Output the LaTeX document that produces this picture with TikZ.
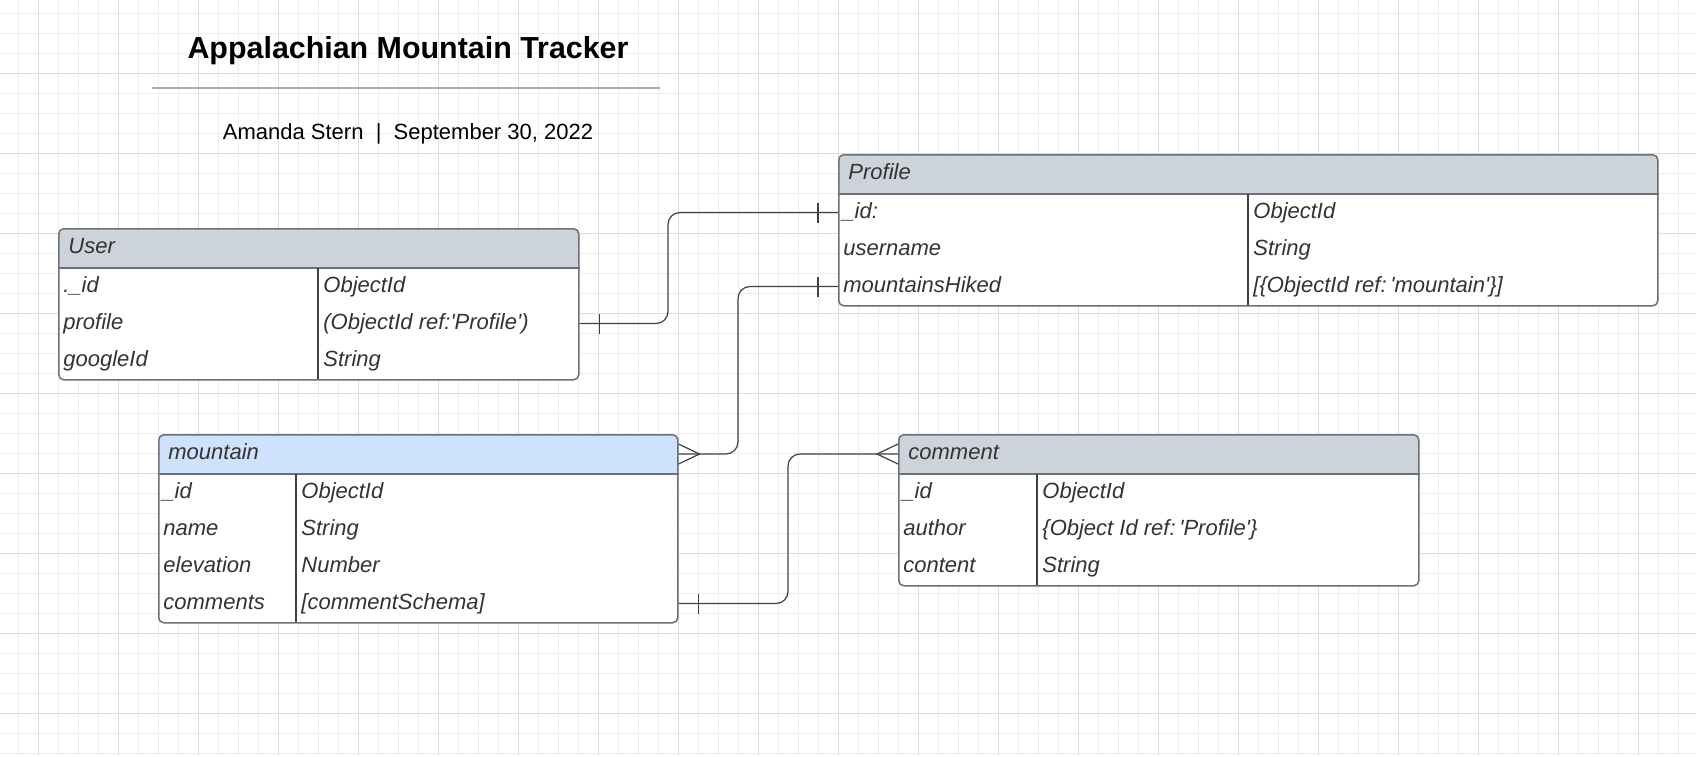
\documentclass[tikz,border=0pt]{standalone}
\usepackage{fontspec}
\setmainfont{Liberation Sans}
\definecolor{gminor}{HTML}{EDEDED}
\definecolor{gmajor}{HTML}{DCDCDC}
\definecolor{headgray}{HTML}{CDD3DB}
\definecolor{headblue}{HTML}{CFE2FB}
\definecolor{edge}{HTML}{6B7079}
\definecolor{wire}{HTML}{3C424A}
\definecolor{ink}{HTML}{333333}
\definecolor{rulecol}{HTML}{A8ADB8}
\newcommand{\squote}{\textquotesingle}

\begin{document}
\begin{tikzpicture}[x=0.5pt, y=-0.5pt, font=\fontsize{11}{13}\selectfont]
    \tikzset{
      tbl/.style={draw=edge, line width=0.75pt, fill=white, rounded corners=2.5pt,
        anchor=north west, inner sep=0pt, minimum height=75.5pt,
        path picture={\fill[#1] (path picture bounding box.north west)
          rectangle ([yshift=-20pt]path picture bounding box.north east);}},
      fld/.style={anchor=west, inner sep=0pt, text height=8pt, text depth=2.5pt,
        font=\fontsize{11}{13}\selectfont\itshape, text=ink},
      sep/.style={draw=edge, line width=0.75pt},
      div/.style={draw=wire, line width=0.6pt},
      conn/.style={draw=wire, line width=0.6pt},
    }
    \useasboundingbox (0,0) rectangle (1696,756);
    \fill[white] (0,0) rectangle (1696,756);

    % background grid
    \foreach \i in {0,...,83} \draw[gminor, line width=0.5pt] ({18.33+20*\i},0) -- ++(0,756);
    \foreach \i in {0,...,37} \draw[gminor, line width=0.5pt] (0,{13.33+20*\i}) -- ++(1696,0);
    \foreach \i in {0,...,20} \draw[gmajor, line width=0.5pt] ({38.33+80*\i},0) -- ++(0,756);
    \foreach \i in {0,...,8} \draw[gmajor, line width=0.5pt] (0,{73.33+80*\i}) -- ++(1696,0);

    % title block
    \node[anchor=base, font=\fontsize{15.2}{18}\selectfont\bfseries] (title) at (408,58) {Appalachian Mountain Tracker};
    \draw[rulecol, line width=1pt] (152,88) -- (660,88);
    \node[anchor=base] (byline) at (408,139) {Amanda Stern ~|~ September 30, 2022};

    % User
    \node[tbl=headgray, minimum width=260pt] (user) at (58,228) {};
    \draw[sep] ([yshift=-20pt]user.north west) -- ([yshift=-20pt]user.north east);
    \draw[div] (318,268) -- (318,379);
    \node[fld] (user-head) at (68,248) {User};
    \node[fld] (user-id) at (63,286.5) {.\_id};
    \node[fld] (user-profile) at (63,323.5) {profile};
    \node[fld] (user-google) at (63,360.5) {googleId};
    \node[fld] at (323,286.5) {ObjectId};
    \node[fld] at (323,323.5) {(ObjectId ref:\squote Profile\squote)};
    \node[fld] at (323,360.5) {String};

    % Profile
    \node[tbl=headgray, minimum width=409.5pt] (prof) at (838,154) {};
    \draw[sep] ([yshift=-20pt]prof.north west) -- ([yshift=-20pt]prof.north east);
    \draw[div] (1248,194) -- (1248,305);
    \node[fld] (prof-head) at (848,174) {Profile};
    \node[fld] (prof-id) at (842,212.5) {\_id:};
    \node[fld] (prof-user) at (843,249.5) {username};
    \node[fld] (prof-hiked) at (843,286.5) {mountainsHiked};
    \node[fld] at (1253,212.5) {ObjectId};
    \node[fld] at (1253,249.5) {String};
    \node[fld] at (1253,286.5) {[\{ObjectId ref:\,\squote mountain\squote\}]};

    % mountain
    \node[tbl=headblue, minimum width=259.5pt, minimum height=94pt] (mtn) at (158,434) {};
    \draw[sep] ([yshift=-20pt]mtn.north west) -- ([yshift=-20pt]mtn.north east);
    \draw[div] (296,474) -- (296,622);
    \node[fld] (mtn-head) at (168,454) {mountain};
    \node[fld] (mtn-id) at (162,492.5) {\_id};
    \node[fld] (mtn-name) at (163,529.5) {name};
    \node[fld] (mtn-elev) at (163,566.5) {elevation};
    \node[fld] (mtn-comments) at (163,603.5) {comments};
    \node[fld] at (301,492.5) {ObjectId};
    \node[fld] at (301,529.5) {String};
    \node[fld] at (301,566.5) {Number};
    \node[fld] at (301,603.5) {[commentSchema]};

    % comment
    \node[tbl=headgray, minimum width=260pt] (cmt) at (898,434) {};
    \draw[sep] ([yshift=-20pt]cmt.north west) -- ([yshift=-20pt]cmt.north east);
    \draw[div] (1037,474) -- (1037,585);
    \node[fld] (cmt-head) at (908,454) {comment};
    \node[fld] (cmt-id) at (902,492.5) {\_id};
    \node[fld] (cmt-author) at (903,529.5) {author};
    \node[fld] (cmt-content) at (903,566.5) {content};
    \node[fld] at (1042,492.5) {ObjectId};
    \node[fld] at (1042,529.5) {\{Object Id ref:\,\squote Profile\squote\}};
    \node[fld] at (1042,566.5) {String};

    % relations
    \coordinate (j1) at (668,0);
    \coordinate (j2) at (738,0);
    \coordinate (j3) at (788,0);
    \draw[conn, rounded corners=6pt] (user.east |- user-profile) -| (j1 |- prof-id) -- (prof.west |- prof-id);
    \draw[conn] ([xshift=10pt]user.east |- user-profile) ++(0,-10) -- ++(0,20);
    \draw[conn] ([xshift=-10pt]prof.west |- prof-id) ++(0,-10) -- ++(0,20);

    \draw[conn, rounded corners=6pt] (prof.west |- prof-hiked) -| (j2 |- mtn-head) -- (mtn.east |- mtn-head);
    \draw[conn] ([xshift=-10pt]prof.west |- prof-hiked) ++(0,-10) -- ++(0,20);
    \draw[conn] (mtn.east |- mtn-head) ++(0,-10) -- ++(21,10) -- ++(-21,10);

    \draw[conn, rounded corners=6pt] (mtn.east |- mtn-comments) -| (j3 |- cmt-head) -- (cmt.west |- cmt-head);
    \draw[conn] ([xshift=10pt]mtn.east |- mtn-comments) ++(0,-10) -- ++(0,20);
    \draw[conn] (cmt.west |- cmt-head) ++(0,-10) -- ++(-21,10) -- ++(21,10);
  \end{tikzpicture}
\end{document}
